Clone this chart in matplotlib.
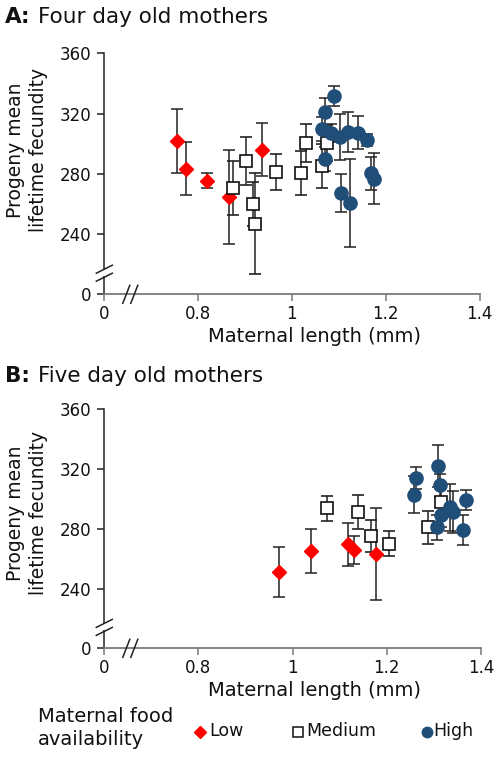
import matplotlib
matplotlib.use("Agg")
import matplotlib.pyplot as plt
from matplotlib.lines import Line2D
import matplotlib.patches as mpatches

plt.rcParams['font.family'] = ['DejaVu Sans']

# ---------------- data ----------------
# Panel A: four day old mothers
a_low_x = [0.756, 0.775, 0.818, 0.865, 0.936]
a_low_y = [301.7, 283.3, 275.3, 264.7, 296.0]
a_low_e = [21.0, 17.5, 5.0, 31.0, 17.5]

a_med_x = [0.874, 0.903, 0.917, 0.922, 0.966, 1.019, 1.029, 1.065, 1.074]
a_med_y = [270.4, 288.7, 260.0, 247.0, 281.3, 280.7, 300.4, 285.0, 300.5]
a_med_e = [18.0, 16.0, 14.4, 33.7, 12.0, 14.5, 12.7, 14.5, 12.0]

a_high_x = [1.089, 1.070, 1.064, 1.083, 1.103, 1.119, 1.142, 1.161, 1.070, 1.105, 1.123, 1.168, 1.176]
a_high_y = [331.8, 320.7, 310.0, 307.2, 304.4, 307.7, 307.3, 302.4, 289.8, 267.2, 260.7, 280.4, 276.8]
a_high_e = [6.7, 9.5, 8.0, 6.0, 15.3, 13.0, 11.0, 4.0, 8.0, 12.5, 29.0, 11.0, 16.7]

# Panel B: five day old mothers
b_low_x = [0.970, 1.040, 1.118, 1.130, 1.178]
b_low_y = [251.2, 265.4, 269.7, 266.0, 263.1]
b_low_e = [16.6, 14.7, 14.5, 9.5, 30.7]

b_med_x = [1.073, 1.139, 1.167, 1.205, 1.288, 1.315]
b_med_y = [293.7, 291.4, 275.2, 270.0, 281.0, 298.2]
b_med_e = [8.2, 11.2, 10.5, 8.2, 11.0, 11.0]

b_high_x = [1.258, 1.263, 1.309, 1.313, 1.314, 1.306, 1.334, 1.341, 1.368, 1.361]
b_high_y = [302.7, 314.1, 321.8, 309.0, 289.4, 280.9, 294.3, 291.0, 299.3, 279.1]
b_high_e = [12.4, 7.5, 14.0, 8.0, 8.0, 8.6, 15.7, 14.0, 6.7, 10.0]

x_ticks = [0.6, 0.8, 1.0, 1.2, 1.4]
x_ticklabels = ['0', '0.8', '1', '1.2', '1.4']
y_ticks = [200, 240, 280, 320, 360]
y_ticklabels = ['0', '240', '280', '320', '360']

titles = [("A:", "Four day old mothers"), ("B:", "Five day old mothers")]
xlabel = "Maternal length (mm)"
ylabel = "Progeny mean\nlifetime fecundity"
legend_title = "Maternal food\navailability"
legend_labels = ["Low", "Medium", "High"]

RED = '#FF0000'
BLUE = '#1F4E79'
ECOL = '#222222'

W, H = 498, 759
fig = plt.figure(figsize=(W / 100, H / 100), dpi=100)


def fx(px):
    return px / W


def fy(py):
    return 1 - py / H


def make_axes(left, right, top, bottom):
    return fig.add_axes([fx(left), fy(bottom), fx(right - left), (bottom - top) / H])


axA = make_axes(104.3, 479.5, 53.3, 294.3)
axB = make_axes(104.3, 481.0, 409.3, 648.3)

series = [
    (axA, (a_low_x, a_low_y, a_low_e), (a_med_x, a_med_y, a_med_e), (a_high_x, a_high_y, a_high_e)),
    (axB, (b_low_x, b_low_y, b_low_e), (b_med_x, b_med_y, b_med_e), (b_high_x, b_high_y, b_high_e)),
]

for ax, low, med, high in series:
    ekw = dict(ls='none', ecolor=ECOL, elinewidth=1.1, capsize=4.2, capthick=1.1)
    ax.errorbar(low[0], low[1], yerr=low[2], marker='D', ms=7.2, mfc=RED, mec=RED,
                zorder=3, **ekw)
    ax.errorbar(med[0], med[1], yerr=med[2], marker='s', ms=8.3, mfc='white', mec='#111111',
                mew=1.2, zorder=3, **ekw)
    ax.errorbar(high[0], high[1], yerr=high[2], marker='o', ms=9.5, mfc=BLUE, mec=BLUE,
                zorder=3, **ekw)
    ax.set_xlim(0.6, 1.4)
    ax.set_ylim(200, 360)
    ax.set_xticks(x_ticks)
    ax.set_xticklabels(x_ticklabels)
    ax.set_yticks(y_ticks)
    ax.set_yticklabels(y_ticklabels)
    ax.spines['top'].set_visible(False)
    ax.spines['right'].set_visible(False)
    ax.spines['bottom'].set_color('#7a7a7a')
    ax.spines['left'].set_color('#222222')
    ax.spines['bottom'].set_linewidth(1.3)
    ax.spines['left'].set_linewidth(1.1)
    ax.tick_params(axis='x', direction='out', length=5, width=1.1, color='#7a7a7a',
                   labelsize=12, pad=3, labelcolor='#111111')
    ax.tick_params(axis='y', direction='out', length=5, width=1.1, color='#222222',
                   labelsize=12, pad=4, labelcolor='#111111')

    # axis break marks (y axis)
    tr = ax.transData
    # convert pixel offsets via figure coords
    ax_bbox = ax.get_position()
    h_px = ax_bbox.height * H
    w_px = ax_bbox.width * W
    # y break centred at ~ value 214
    yb = (214 - 200) / 160
    for dy in (-4.0, 4.0):
        y0 = yb + dy / h_px
        ax.add_line(Line2D([-8 / w_px, 8 / w_px], [y0 - 4 / h_px, y0 + 4 / h_px],
                           transform=ax.transAxes, color='#222222', lw=1.1,
                           clip_on=False, zorder=5))
    ax.add_patch(mpatches.Rectangle((-2 / w_px, yb - 3 / h_px), 4 / w_px, 6 / h_px,
                                    transform=ax.transAxes, facecolor='white',
                                    edgecolor='none', clip_on=False, zorder=4))
    # x break
    xb = 26 / w_px
    for dx in (-4.0, 4.0):
        x0 = xb + dx / w_px
        ax.add_line(Line2D([x0 - 3.5 / w_px, x0 + 3.5 / w_px], [-9 / h_px, 9 / h_px],
                           transform=ax.transAxes, color='#222222', lw=1.1,
                           clip_on=False, zorder=5))

# titles
for (bold, rest), ypx in zip(titles, (17, 376)):
    t1 = fig.text(fx(5), fy(ypx), bold, fontsize=15.5, fontweight='bold',
                  va='center', ha='left', color='#111111')
    fig.text(fx(38), fy(ypx), rest, fontsize=15.5, va='center', ha='left',
             color='#111111')

# x labels
for ypx in (337, 690):
    fig.text(fx(314), fy(ypx), xlabel, fontsize=14, ha='center', va='center',
             color='#111111')

# y labels
for ypx in (150, 513):
    fig.text(fx(27), fy(ypx), ylabel, fontsize=13.5, ha='center', va='center',
             rotation=90, linespacing=1.25, multialignment='center', color='#111111')

# legend
fig.text(fx(38), fy(728), legend_title, fontsize=14, ha='left', va='center',
         linespacing=1.25, color='#111111')
leg_markers = [('D', RED, RED, 6.0, 1.0), ('s', 'white', '#111111', 7.0, 1.1),
               ('o', BLUE, BLUE, 7.5, 1.0)]
leg_pos = [(200, 209), (297.7, 306), (426.7, 433)]
for (mk, fc, ec, ms, mew), (mx, tx), lab in zip(leg_markers, leg_pos, legend_labels):
    fig.add_artist(Line2D([fx(mx)], [fy(731.5)], transform=fig.transFigure, marker=mk,
                          ms=ms, mfc=fc, mec=ec, mew=mew, ls='none'))
    fig.text(fx(tx), fy(731.5), lab, fontsize=12.5, ha='left', va='center',
             color='#111111')

fig.savefig('out.png', dpi=100)
